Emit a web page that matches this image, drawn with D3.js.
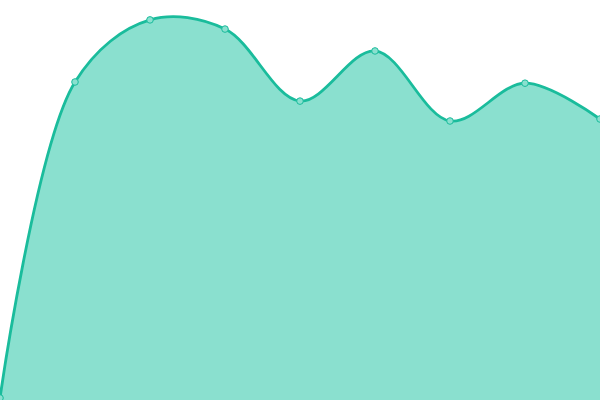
<!DOCTYPE html>
<html>
<head>
<meta charset="utf-8">
<script src="https://cdn.jsdelivr.net/npm/d3@7"></script>
<style>
  html, body { margin: 0; padding: 0; background: #fff; }
  svg { display: block; }
</style>
</head>
<body>
<div id="chart"></div>
<script>
// data
const labels = ["1", "2", "3", "4", "5", "6", "7", "8", "9"];
const values = [0, 79.4, 95.0, 92.7, 74.6, 87.2, 69.6, 79.1, 70.1];

const width = 600, height = 400;

const svg = d3.select("#chart").append("svg")
    .attr("width", width)
    .attr("height", height);

const x = d3.scalePoint()
    .domain(labels)
    .range([0, width]);

const y = d3.scaleLinear()
    .domain([0, 100])
    .range([398, 0]);

const curve = d3.curveCatmullRom.alpha(0.5);

const area = d3.area()
    .x((d, i) => x(labels[i]))
    .y0(height)
    .y1(d => y(d))
    .curve(curve);

const line = d3.line()
    .x((d, i) => x(labels[i]))
    .y(d => y(d))
    .curve(curve);

svg.append("path")
    .datum(values)
    .attr("d", area)
    .attr("fill", "#8ae0cf");

svg.append("path")
    .datum(values)
    .attr("d", line)
    .attr("fill", "none")
    .attr("stroke", "#1abc9c")
    .attr("stroke-width", 2.8);

svg.selectAll("circle")
    .data(values)
    .enter()
    .append("circle")
    .attr("cx", (d, i) => x(labels[i]))
    .attr("cy", d => y(d))
    .attr("r", 3.3)
    .attr("fill", "#8ae0cf")
    .attr("stroke", "#1abc9c")
    .attr("stroke-width", 1);
</script>
</body>
</html>
